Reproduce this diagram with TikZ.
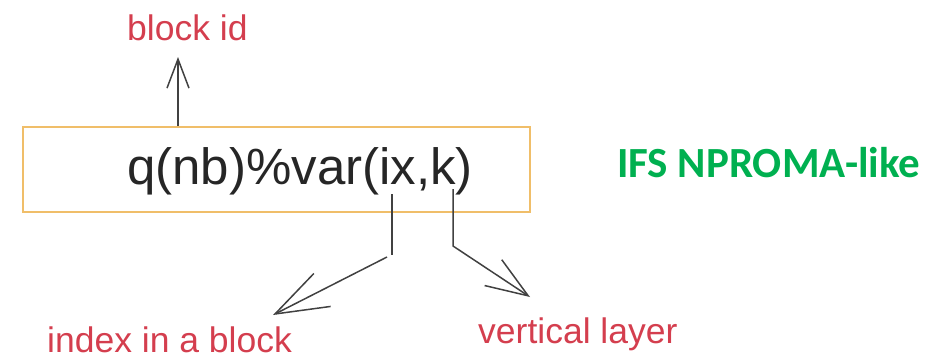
\documentclass[tikz,border=0pt]{standalone}
\usepackage{fontspec}
\setmainfont{Liberation Sans}
\newfontfamily\labelfont{Carlito}
\usetikzlibrary{arrows.meta}
\definecolor{boxorange}{RGB}{240,190,105}
\definecolor{labelred}{RGB}{212,62,78}
\definecolor{titlegreen}{RGB}{0,176,80}
\definecolor{lineclr}{RGB}{65,65,65}
\tikzset{
  exprbox/.style={draw=boxorange, line width=2pt, minimum width=507pt, minimum height=85pt, inner sep=0pt},
  expr/.style={anchor=base west, inner sep=0pt, font=\fontsize{51}{60}\selectfont, text=black!85},
  note/.style={anchor=base west, inner sep=0pt, font=\fontsize{35.5}{42}\selectfont, text=labelred},
  title/.style={anchor=base west, inner sep=0pt, font=\labelfont\bfseries\fontsize{43}{50}\selectfont, text=titlegreen},
  conn/.style={draw=lineclr, line width=1.5pt},
}
\begin{document}
\begin{tikzpicture}[x=1pt,y=-1pt]
  \useasboundingbox (0,0) rectangle (944,360);
  % the expression in its box
  \node[exprbox] (box) at (276.5,169.5) {};
  \node[expr] (code) at (127,184) {q(nb)\%var(ix,k)};
  % labels
  \node[note] (blk) at (127,40) {block id};
  \node[note] (idx) at (47,352) {index in a block};
  \node[note] (lay) at (478,343) {vertical layer};
  \node[title] (ttl) at (617,177) {IFS NPROMA-like};
  % points of the connectors
  \coordinate (upTip) at (178,57);
  \coordinate (ixTop) at (392,194);
  \coordinate (ixBend) at (392,255);
  \coordinate (ixStart) at (387,257);
  \coordinate (ixTip) at (273,315);
  \coordinate (kTop) at (453,189);
  \coordinate (kBend) at (453,246);
  \coordinate (kTip) at (530,297);
  % connectors
  \draw[conn, -{Straight Barb[length=29pt,width=22pt]}] (box.north -| upTip) -- (upTip);
  \draw[conn] (ixTop) -- (ixBend);
  \draw[conn, -{Straight Barb[length=53pt,width=37pt]}] (ixStart) -- (ixTip);
  \draw[conn, -{Straight Barb[length=42pt,width=31pt]}] (kTop) -- (kBend) -- (kTip);
\end{tikzpicture}
\end{document}
